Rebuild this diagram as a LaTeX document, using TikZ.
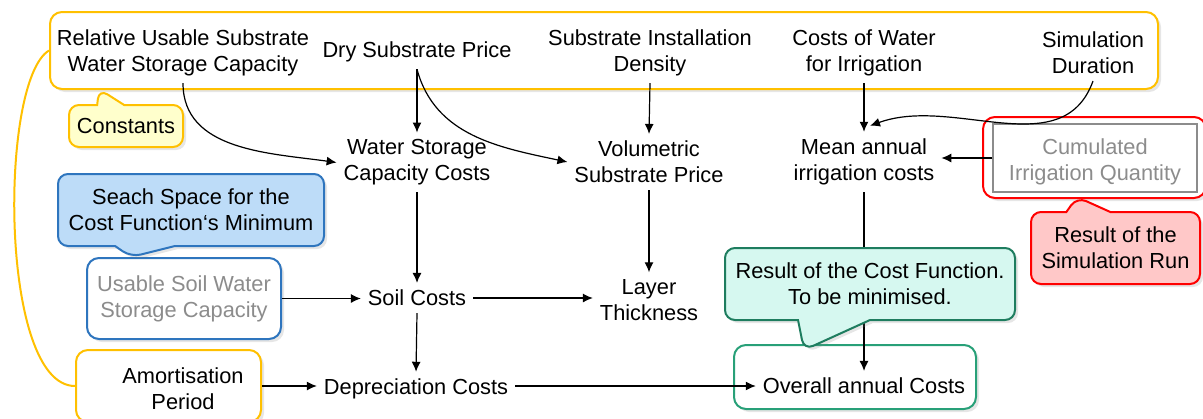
\documentclass[tikz,border=0pt]{standalone}
\usepackage{fontspec}
\setmainfont{Liberation Sans}
\usetikzlibrary{arrows.meta,shapes.callouts,shadows}
\definecolor{constyellow}{RGB}{255,192,0}
\definecolor{constfill}{RGB}{255,255,204}
\definecolor{searchblue}{RGB}{46,117,190}
\definecolor{searchfill}{RGB}{189,220,248}
\definecolor{simred}{RGB}{255,0,0}
\definecolor{simfill}{RGB}{255,200,200}
\definecolor{resgreen}{RGB}{30,125,95}
\definecolor{resfill}{RGB}{214,248,240}
\definecolor{boxgreen}{RGB}{40,160,120}
\definecolor{textgray}{RGB}{140,140,140}

\begin{document}
\begin{tikzpicture}[x=0.5pt,y=-0.5pt,font=\fontsize{10.9}{13}\selectfont,>={Latex[length=5pt,width=4.5pt]}]
\useasboundingbox (0,0) rectangle (1203,418);
% Node styles: plain text, grey text and the framed boxes
\tikzstyle{txt}=[align=center,yshift=-1.5pt];
\tikzstyle{grey txt}=[align=center,text=textgray];
\tikzstyle{box}=[rectangle,rounded corners=6pt,line width=1pt,fill=white,
  drop shadow={opacity=0.2,shadow xshift=1.5pt,shadow yshift=-1.5pt}];
\tikzstyle{callout note}=[rectangle callout,rounded corners=5pt,line width=1pt,align=center,
  drop shadow={opacity=0.2,shadow xshift=1.5pt,shadow yshift=-1.5pt}];
\tikzstyle{link}=[->,line width=0.6pt];
% Frames behind the texts
\node(constframe)[box,draw=constyellow,minimum width=554pt,minimum height=38.5pt]at(604,50.5){};
\node(redframe)[box,draw=simred,minimum width=111.5pt,minimum height=40.5pt]at(1094.5,157.5){};
\node(cumbox)[draw=textgray,line width=0.6pt,fill=white,minimum width=102pt,minimum height=34pt]at(1095,158){};
\node(usable)[box,draw=searchblue,grey txt,minimum width=97pt,minimum height=40.5pt]at(184,298.5){Usable Soil Water\\Storage Capacity};
\node(amortbox)[box,draw=constyellow,minimum width=92.5pt,minimum height=36pt]at(168.5,386){};
\node(overallbox)[box,draw=boxgreen,minimum width=121pt,minimum height=32pt]at(855,377){};
% Constants
\node(relcap)[txt]at(183,50){Relative Usable Substrate\\Water Storage Capacity};
\node(dry)[txt]at(417,49){Dry Substrate Price};
\node(density)[txt]at(650,50){Substrate Installation\\Density};
\node(water)[txt]at(864,50){Costs of Water\\for Irrigation};
\node(duration)[txt]at(1093,50){Simulation\\Duration};
% Derived quantities
\node(wscc)[txt]at(417,159.5){Water Storage\\Capacity Costs};
\node(volprice)[txt]at(649,159){Volumetric\\Substrate Price};
\node(mean)[txt]at(864,159){Mean annual\\irrigation costs};
\node(cum)[grey txt,yshift=-1.5pt]at(1095,158.5){Cumulated\\Irrigation Quantity};
\node(soil)[align=center]at(417,298){Soil Costs};
\node(layer)[txt]at(649,297){Layer\\Thickness};
\node(amort)[txt]at(183,386){Amortisation\\Period};
\node(depr)[txt]at(416,386){Depreciation Costs};
\node(overall)[align=center]at(864,386){Overall annual Costs};
% Connectors
\draw[link](relcap.south)to[out=-90,in=172](wscc.west);
\draw[link](dry.south)--(wscc.north);
\draw[link](dry.south)to[out=-75,in=168](volprice.west);
\draw[link](density.south)--(volprice.north);
\draw[link](water.south)--(mean.north);
\draw[link](duration.south)to[out=-110,in=20]([xshift=3pt,yshift=3pt]mean.north);
\draw[link](cumbox.west)--(cumbox.west-|mean.east);
\draw[link](wscc.south)--(soil.north);
\draw[link](volprice.south)--(layer.north);
\draw[link](usable.east)--(usable.east-|soil.west);
\draw[link](soil.east)--(soil.east-|layer.west);
\draw[link](soil.south)--(depr.north);
\draw[link](amortbox.east)--(amortbox.east-|depr.west);
\draw[link](amortbox.east-|depr.east)--(amortbox.east-|overall.west);
\draw[link](mean.south)--(overall.north);
\draw[constyellow,line width=1pt](constframe.west)..controls +(-50,30) and +(-76,0)..(amortbox.west);
% Callouts
\node(constnote)[callout note,draw=constyellow,fill=constfill,minimum width=57pt,minimum height=21pt,
  callout pointer width=13.5pt,callout absolute pointer={([xshift=25pt,yshift=0.5pt]constframe.south west)}]
  at(126,126){Constants};
\node(searchnote)[callout note,draw=searchblue,fill=searchfill,minimum width=133pt,minimum height=36pt,
  callout pointer width=30pt,callout absolute pointer={([xshift=22.5pt]usable.north west)}]
  at(191,210){Seach Space for the\\Cost Function‘s Minimum};
\node(resnote)[callout note,draw=resgreen,fill=resfill,minimum width=145pt,minimum height=36pt,
  callout pointer width=36pt,callout absolute pointer={([xshift=35.5pt,yshift=-3pt]overallbox.north west)}]
  at(870,284){Result of the Cost Function.\\To be minimised.};
\node(simnote)[callout note,draw=simred,fill=simfill,minimum width=84.5pt,minimum height=36pt,
  callout pointer width=22pt,callout absolute pointer={([xshift=-8.75pt,yshift=1pt]redframe.south)}]
  at(1115.5,248){Result of the\\Simulation Run};
\end{tikzpicture}
\end{document}
